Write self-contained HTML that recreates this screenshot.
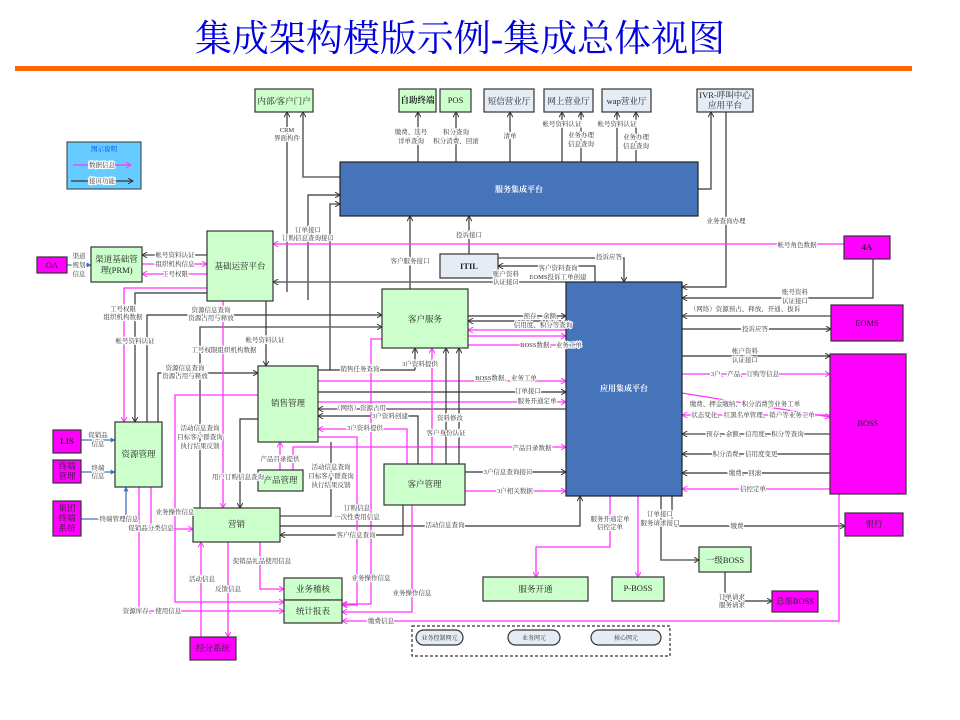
<!DOCTYPE html>
<html><head><meta charset="utf-8"><style>
html,body{margin:0;padding:0;background:#fff;}
svg{display:block;font-family:"Liberation Serif","Noto Serif CJK SC",serif;}
.l{font-size:6.5px;fill:#333;stroke:#fff;stroke-width:2.2px;paint-order:stroke;text-anchor:middle;}
.b{font-size:8.5px;fill:#222;text-anchor:middle;}
.k{fill:none;stroke:#333;stroke-width:1.2;}
.g{fill:none;stroke:#666;stroke-width:1.6;}
.m{fill:none;stroke:#ff33ff;stroke-width:1.3;}
.bl{fill:none;stroke:#4472c4;stroke-width:1.3;}
.gr{fill:#ccffcc;stroke:#333;stroke-width:1.2;}
.lb{fill:#e6ecf5;stroke:#333;stroke-width:1.2;}
.mg{fill:#ff00ff;stroke:#333;stroke-width:1.2;}
.bu{fill:#4674bb;stroke:#222;stroke-width:1.2;}
</style></head><body>
<svg width="960" height="720" viewBox="0 0 960 720" xmlns="http://www.w3.org/2000/svg">
<defs>
<marker id="ak" viewBox="0 0 8 8" refX="7" refY="4" markerWidth="6" markerHeight="6" orient="auto-start-reverse" markerUnits="userSpaceOnUse"><path d="M0,0 L7,4 L0,8" fill="none" stroke="#333" stroke-width="1.3"/></marker>
<marker id="am" viewBox="0 0 8 8" refX="7" refY="4" markerWidth="6" markerHeight="6" orient="auto-start-reverse" markerUnits="userSpaceOnUse"><path d="M0,0 L7,4 L0,8" fill="none" stroke="#ff33ff" stroke-width="1.3"/></marker>
<marker id="ab" viewBox="0 0 8 8" refX="7" refY="4" markerWidth="5" markerHeight="5" orient="auto-start-reverse" markerUnits="userSpaceOnUse"><path d="M0,0 L8,4 L0,8z" fill="#4472c4"/></marker>
</defs>
<text x="460" y="51" font-size="37" fill="#0000dd" text-anchor="middle" font-family="'Liberation Serif','Noto Serif CJK SC',serif">集成架构模版示例-集成总体视图</text>
<rect x="15" y="66" width="897" height="5" fill="#ff6600"/>

<g>
<polyline class="k" points="287,292 287,112" marker-end="url(#ak)"/>
<polyline class="g" points="340,177 303,177 303,112" marker-end="url(#ak)"/>
<line class="k" x1="418" y1="162" x2="418" y2="112" marker-end="url(#ak)"/>
<line class="k" x1="456" y1="162" x2="456" y2="112" marker-end="url(#ak)"/>
<line class="k" x1="510" y1="162" x2="510" y2="112" marker-end="url(#ak)"/>
<line class="k" x1="562" y1="162" x2="562" y2="112" marker-end="url(#ak)"/>
<line class="k" x1="581" y1="162" x2="581" y2="112" marker-end="url(#ak)"/>
<line class="k" x1="617" y1="162" x2="617" y2="112" marker-end="url(#ak)"/>
<line class="k" x1="636" y1="162" x2="636" y2="112" marker-end="url(#ak)"/>
<polyline class="k" points="698,189 711,189 711,112" marker-end="url(#ak)"/>
<polyline class="k" points="726,112 726,287 682,287" marker-end="url(#ak)"/>
<polyline class="k" points="308,300 308,195 340,195" marker-end="url(#ak)"/>
<polyline class="g" points="330,370 330,204 340,204" marker-end="url(#ak)"/>
<line class="k" x1="410" y1="289" x2="410" y2="216" marker-end="url(#ak)"/>
<line class="k" x1="469" y1="254" x2="469" y2="216" marker-end="url(#ak)"/>
<line class="m" x1="844" y1="244" x2="273" y2="244" marker-end="url(#am)"/>
<polyline class="k" points="873,259 873,298 682,298" marker-end="url(#ak)"/>
<polyline class="g" points="498,258 624,258 624,282" marker-end="url(#ak)"/>
<polyline class="k" points="595,282 595,266 498,266" marker-end="url(#ak)"/>
<line class="g" x1="566" y1="282" x2="273" y2="282" marker-end="url(#ak)"/>
<line class="bl" x1="67" y1="265" x2="91" y2="265" marker-end="url(#ab)"/>
<line class="g" x1="207" y1="255" x2="142" y2="255" marker-end="url(#ak)"/>
<line class="m" x1="142" y1="264" x2="207" y2="264" marker-end="url(#am)"/>
<line class="m" x1="207" y1="274" x2="142" y2="274" marker-end="url(#am)"/>
<polyline class="m" points="207,288 124,288 124,422" marker-end="url(#am)"/>
<polyline class="k" points="207,293 135,293 135,422" marker-end="url(#ak)"/>
<polyline class="k" points="147,422 147,315 382,315" marker-end="url(#ak)"/>
<polyline class="k" points="158,422 158,373 258,373" marker-end="url(#ak)"/>
<polyline class="g" points="200,508 200,327 382,327" marker-end="url(#ak)"/>
<line class="k" x1="266" y1="301" x2="266" y2="366" marker-end="url(#ak)"/>
<line class="m" x1="223" y1="301" x2="223" y2="508" marker-end="url(#am)"/>
<line class="k" x1="318" y1="370" x2="415" y2="370"/>
<line class="k" x1="415" y1="370" x2="415" y2="348" marker-end="url(#ak)"/>
<line class="k" x1="468" y1="316" x2="566" y2="316" marker-end="url(#ak)"/>
<line class="k" x1="566" y1="321" x2="468" y2="321" marker-end="url(#ak)"/>
<line class="m" x1="566" y1="330" x2="468" y2="330" marker-end="url(#am)"/>
<line class="m" x1="468" y1="336" x2="566" y2="336" marker-end="url(#am)"/>
<line class="m" x1="468" y1="345" x2="566" y2="345" marker-end="url(#am)"/>
<line class="m" x1="318" y1="381" x2="566" y2="381" marker-end="url(#am)"/>
<line class="k" x1="318" y1="392" x2="566" y2="392" marker-end="url(#ak)"/>
<line class="m" x1="318" y1="402" x2="566" y2="402" marker-end="url(#am)"/>
<line class="g" x1="566" y1="409" x2="318" y2="409" marker-end="url(#ak)"/>
<polyline class="k" points="418,464 418,416 318,416" marker-end="url(#ak)"/>
<polyline class="m" points="407,464 407,429 318,429" marker-end="url(#am)"/>
<polyline class="m" points="293,470 293,447 566,447" marker-end="url(#am)"/>
<line class="m" x1="432" y1="464" x2="432" y2="348" marker-end="url(#am)"/>
<line class="k" x1="446" y1="464" x2="446" y2="348" marker-end="url(#ak)"/>
<line class="k" x1="459" y1="464" x2="459" y2="348" marker-end="url(#ak)"/>
<polyline class="m" points="382,339 371,339 371,604 342,604" marker-end="url(#am)"/>
<line class="k" x1="465" y1="472" x2="566" y2="472" marker-end="url(#ak)"/>
<line class="m" x1="465" y1="491" x2="566" y2="491" marker-end="url(#am)"/>
<line class="g" x1="831" y1="316" x2="682" y2="316" marker-end="url(#ak)"/>
<line class="k" x1="682" y1="329" x2="831" y2="329" marker-end="url(#ak)"/>
<line class="k" x1="682" y1="356" x2="830" y2="356" marker-end="url(#ak)"/>
<line class="m" x1="682" y1="374" x2="830" y2="374" marker-end="url(#am)"/>
<line class="m" x1="682" y1="393" x2="830" y2="417" marker-end="url(#am)"/>
<line class="m" x1="830" y1="415" x2="682" y2="415" marker-end="url(#am)"/>
<line class="g" x1="830" y1="434" x2="682" y2="434" marker-end="url(#ak)"/>
<line class="k" x1="830" y1="454" x2="682" y2="454" marker-end="url(#ak)"/>
<line class="k" x1="830" y1="473" x2="682" y2="473" marker-end="url(#ak)"/>
<line class="m" x1="830" y1="489" x2="682" y2="489" marker-end="url(#am)"/>
<polyline class="m" points="610,496 610,547 536,547 536,577" marker-end="url(#am)"/>
<line class="m" x1="638" y1="496" x2="638" y2="577" marker-end="url(#am)"/>
<polyline class="g" points="661,496 661,560 699,560" marker-end="url(#ak)"/>
<polyline class="k" points="672,496 672,526 845,526" marker-end="url(#ak)"/>
<polyline class="k" points="725,572 725,601 772,601" marker-end="url(#ak)"/>
<polyline class="m" points="839,494 839,621 342,621" marker-end="url(#am)"/>
<polyline class="k" points="280,526 580,526 580,496" marker-end="url(#ak)"/>
<polyline class="k" points="403,505 403,535 280,535" marker-end="url(#ak)"/>
<polyline class="g" points="331,442 331,516 280,516"/>
<line class="bl" x1="81" y1="440" x2="115" y2="440" marker-end="url(#ab)"/>
<line class="bl" x1="81" y1="472" x2="115" y2="472" marker-end="url(#ab)"/>
<polyline class="bl" points="81,519 126,519 126,487" marker-end="url(#ab)"/>
<polyline class="m" points="151,487 151,529 193,529" marker-end="url(#am)"/>
<polyline class="m" points="139,487 139,611 284,611" marker-end="url(#am)"/>
<polyline class="m" points="258,395 175,395 175,602 284,602" marker-end="url(#am)"/>
<line class="m" x1="201" y1="637" x2="201" y2="542" marker-end="url(#am)"/>
<line class="m" x1="228" y1="542" x2="228" y2="637" marker-end="url(#am)"/>
<polyline class="m" points="260,542 260,589 284,589" marker-end="url(#am)"/>
<polyline class="k" points="258,419 240,419 240,508" marker-end="url(#ak)"/>
<line class="m" x1="280" y1="470" x2="280" y2="442" marker-end="url(#am)"/>
<polyline class="m" points="318,437 357,437 357,605 342,605" marker-end="url(#am)"/>
<polyline class="m" points="412,505 412,612 342,612" marker-end="url(#am)"/>
</g>

<rect class="gr" x="255" y="89" width="58" height="23"/><text class="b" x="284" y="104">内部/客户门户</text>
<rect class="gr" x="399" y="89" width="37" height="23"/><text class="b" x="417.5" y="103" font-size="7" font-weight="bold">自助终端</text>
<rect class="gr" x="440" y="89" width="31" height="23"/><text class="b" x="455.5" y="103">POS</text>
<rect class="lb" x="484" y="89" width="50" height="23"/><text class="b" x="509" y="104">短信营业厅</text>
<rect class="lb" x="544" y="89" width="49" height="23"/><text class="b" x="568.5" y="104">网上营业厅</text>
<rect class="lb" x="602" y="89" width="49" height="23"/><text class="b" x="626.5" y="104">wap营业厅</text>
<rect class="lb" x="697" y="89" width="56" height="23"/><text class="b" x="725" y="98" font-size="8">IVR-呼叫中心</text><text class="b" x="725" y="108" font-size="8">应用平台</text>
<rect class="bu" x="340" y="162" width="358" height="54"/><text x="519" y="192" font-size="8" fill="#fff" font-weight="bold" text-anchor="middle">服务集成平台</text>
<rect x="67" y="142" width="74" height="47" fill="#66ccff" stroke="#333"/><text x="104" y="151" font-size="6.5" fill="#0033ff" text-anchor="middle">图示说明</text>
<line class="m" x1="73" y1="165" x2="131" y2="165" marker-end="url(#am)"/><text class="l" x="102" y="167">数据信息</text>
<line class="k" x1="71" y1="181" x2="133" y2="181" marker-end="url(#ak)"/><text class="l" x="102" y="183">接口功能</text>
<rect class="mg" x="37" y="257" width="30" height="16"/><text class="b" x="52" y="268">OA</text>
<rect class="gr" x="91" y="247" width="51" height="35"/><text class="b" x="116.5" y="262">渠道基础管</text><text class="b" x="116.5" y="273">理(PRM)</text>
<rect class="gr" x="207" y="231" width="66" height="70"/><text class="b" x="240" y="269">基础运营平台</text>
<rect class="lb" x="440" y="254" width="58" height="24"/><text class="b" x="469" y="269" font-weight="bold">ITIL</text>
<rect class="mg" x="844" y="236" width="46" height="23"/><text class="b" x="867" y="250" font-size="8" font-weight="bold">4A</text>
<rect class="gr" x="382" y="289" width="86" height="59"/><text class="b" x="425" y="322">客户服务</text>
<rect class="bu" x="566" y="282" width="116" height="214"/><text x="624" y="391" font-size="8" fill="#fff" font-weight="bold" text-anchor="middle">应用集成平台</text>
<rect class="mg" x="831" y="305" width="72" height="36"/><text class="b" x="867" y="326" font-size="8">EOMS</text>
<rect class="mg" x="830" y="354" width="76" height="140"/><text class="b" x="868" y="426" font-size="8">BOSS</text>
<rect class="gr" x="258" y="366" width="60" height="76"/><text class="b" x="288" y="406">销售管理</text>
<rect class="mg" x="53" y="430" width="28" height="23"/><text class="b" x="67" y="444" font-size="8" font-weight="bold">LIS</text>
<rect class="mg" x="53" y="460" width="28" height="23"/><text class="b" x="67" y="469" font-size="8">终端</text><text class="b" x="67" y="479" font-size="8">管理</text>
<rect class="mg" x="53" y="501" width="28" height="35"/><text class="b" x="67" y="511" font-size="8">集团</text><text class="b" x="67" y="521" font-size="8">终端</text><text class="b" x="67" y="531" font-size="8">系统</text>
<rect class="gr" x="115" y="422" width="47" height="65"/><text class="b" x="138.5" y="457">资源管理</text>
<rect class="gr" x="258" y="470" width="45" height="21"/><text class="b" x="280.5" y="483">产品管理</text>
<rect class="gr" x="384" y="464" width="81" height="41"/><text class="b" x="424.5" y="487">客户管理</text>
<rect class="gr" x="193" y="508" width="87" height="34"/><text class="b" x="236.5" y="527">营销</text>
<rect class="gr" x="284" y="578" width="58" height="22"/><text class="b" x="313" y="592">业务稽核</text>
<rect class="gr" x="284" y="600" width="58" height="23"/><text class="b" x="313" y="614">统计报表</text>
<rect class="mg" x="190" y="637" width="46" height="23"/><text class="b" x="213" y="651">经分系统</text>
<rect class="gr" x="483" y="577" width="105" height="24"/><text class="b" x="535.5" y="592">服务开通</text>
<rect class="gr" x="612" y="577" width="52" height="24"/><text class="b" x="638" y="591" font-size="8">P-BOSS</text>
<rect class="gr" x="699" y="547" width="52" height="25"/><text class="b" x="725" y="563" font-size="8">一级BOSS</text>
<rect class="mg" x="772" y="591" width="46" height="21"/><text class="b" x="795" y="604" font-size="8">总部BOSS</text>
<rect class="mg" x="845" y="513" width="58" height="23"/><text class="b" x="874" y="527" font-size="8">银行</text>
<rect x="412" y="626" width="258" height="30" fill="none" stroke="#333" stroke-dasharray="3,2" stroke-width="1.2"/>
<rect class="lb" x="416" y="630" width="47" height="15" rx="7.5"/><text x="439.5" y="640" font-size="6" fill="#333" text-anchor="middle">业务控制网元</text>
<rect class="lb" x="508" y="630" width="52" height="15" rx="7.5"/><text x="534" y="640" font-size="6" fill="#333" text-anchor="middle">业务网元</text>
<rect class="lb" x="591" y="630" width="70" height="15" rx="7.5"/><text x="626" y="640" font-size="6" fill="#333" text-anchor="middle">核心网元</text>

<g>
<text class="l" x="287" y="132">CRM</text><text class="l" x="287" y="140">界面构件</text>
<text class="l" x="411" y="134">缴费、选号</text><text class="l" x="411" y="143">详单查询</text>
<text class="l" x="456" y="134">积分查询</text><text class="l" x="456" y="143">积分消费、回滚</text>
<text class="l" x="510" y="138">清单</text>
<text class="l" x="562" y="126">帐号资料认证</text>
<text class="l" x="581" y="137">业务办理</text><text class="l" x="581" y="146">信息查询</text>
<text class="l" x="617" y="126">帐号资料认证</text>
<text class="l" x="636" y="139">业务办理</text><text class="l" x="636" y="148">信息查询</text>
<text class="l" x="726" y="223">业务查询办理</text>
<text class="l" x="308" y="232">订单接口</text><text class="l" x="308" y="240">订购信息查询接口</text>
<text class="l" x="469" y="237">投诉接口</text>
<text class="l" x="410" y="263">客户服务接口</text>
<text class="l" x="797" y="247">帐号角色数据</text>
<text class="l" x="609" y="259">投诉应答</text>
<text class="l" x="558" y="270">客户资料查询</text><text class="l" x="558" y="279">EOMS投诉工单创建</text>
<text class="l" x="506" y="276">账户资料</text><text class="l" x="506" y="284">认证接口</text>
<text class="l" x="795" y="294">账号资料</text><text class="l" x="795" y="303">认证接口</text>
<text class="l" x="745" y="311">（网络）资源预占、释放、开通、拔诉</text>
<text class="l" x="755" y="331">投诉应答</text>
<text class="l" x="745" y="353">帐户资料</text><text class="l" x="745" y="362">认证接口</text>
<text class="l" x="745" y="376">3户、产品、订购等信息</text>
<text class="l" x="745" y="406">缴费、押金缴纳、积分消费等业务工单</text>
<text class="l" x="753" y="417">状态变化、红黑名单管理、销户等业务工单</text>
<text class="l" x="755" y="436">预存、余额、信用度、积分等查询</text>
<text class="l" x="745" y="456">积分消费、信用度变更</text>
<text class="l" x="745" y="475">缴费、回滚</text>
<text class="l" x="753" y="491">信控定单</text>
<text class="l" x="79" y="258">渠道</text><text class="l" x="79" y="267">规划</text><text class="l" x="79" y="276">信息</text>
<text class="l" x="175" y="257">帐号资料认证</text>
<text class="l" x="175" y="266">组织机构信息</text>
<text class="l" x="175" y="276">工号权限</text>
<text class="l" x="123" y="311">工号权限</text><text class="l" x="123" y="319">组织机构数据</text>
<text class="l" x="135" y="343">帐号资料认证</text>
<text class="l" x="211" y="312">资源信息查询</text><text class="l" x="211" y="320">资源占用与释放</text>
<text class="l" x="265" y="342">帐号资料认证</text>
<text class="l" x="224" y="352">工号权限组织机构数据</text>
<text class="l" x="185" y="370">资源信息查询</text><text class="l" x="185" y="378">资源占用与释放</text>
<text class="l" x="360" y="371">销售任务查询</text>
<text class="l" x="420" y="366">3户资料提供</text>
<text class="l" x="543" y="318">预存、余额、</text><text class="l" x="543" y="327">信用度、积分等查询</text>
<text class="l" x="551" y="347">BOSS数据、业务工单</text>
<text class="l" x="506" y="380">BOSS数据、业务工单</text>
<text class="l" x="528" y="393">订单接口</text>
<text class="l" x="537" y="403">服务开通定单</text>
<text class="l" x="360" y="410">（网络）资源占用</text>
<text class="l" x="390" y="418">3户资料创建</text>
<text class="l" x="365" y="430">3户资料提供</text>
<text class="l" x="450" y="420">资料修改</text>
<text class="l" x="446" y="435">客户身份认证</text>
<text class="l" x="532" y="450">产品目录数据</text>
<text class="l" x="508" y="474">3户信息查询接口</text>
<text class="l" x="515" y="493">3户相关数据</text>
<text class="l" x="98" y="437">促销品</text><text class="l" x="98" y="446">信息</text>
<text class="l" x="98" y="470">终端</text><text class="l" x="98" y="478">信息</text>
<text class="l" x="119" y="521">终端管理信息</text>
<text class="l" x="151" y="530">促销品分类信息</text>
<text class="l" x="175" y="514">业务操作信息</text>
<text class="l" x="200" y="430">活动信息查询</text><text class="l" x="200" y="439">目标客户群查询</text><text class="l" x="200" y="448">执行结果反馈</text>
<text class="l" x="280" y="461">产品目录提供</text>
<text class="l" x="238" y="479">用户订购信息查询</text>
<text class="l" x="331" y="469">活动信息查询</text><text class="l" x="331" y="478">目标客户群查询</text><text class="l" x="331" y="487">执行结果反馈</text>
<text class="l" x="357" y="510">订购信息</text><text class="l" x="357" y="519">一次性费用信息</text>
<text class="l" x="445" y="527">活动信息查询</text>
<text class="l" x="356" y="537">客户信息查询</text>
<text class="l" x="262" y="563">促销品礼品使用信息</text>
<text class="l" x="202" y="581">活动信息</text>
<text class="l" x="228" y="591">反馈信息</text>
<text class="l" x="371" y="580">业务操作信息</text>
<text class="l" x="412" y="595">业务操作信息</text>
<text class="l" x="152" y="613">资源库存、使用信息</text>
<text class="l" x="381" y="623">缴费信息</text>
<text class="l" x="610" y="521">服务开通定单</text><text class="l" x="610" y="529">信控定单</text>
<text class="l" x="660" y="516">订单接口</text><text class="l" x="660" y="525">服务请求接口</text>
<text class="l" x="737" y="528">缴费</text>
<text class="l" x="732" y="599">订单请求</text><text class="l" x="732" y="607">服务请求</text>
</g>
</svg>
</body></html>
